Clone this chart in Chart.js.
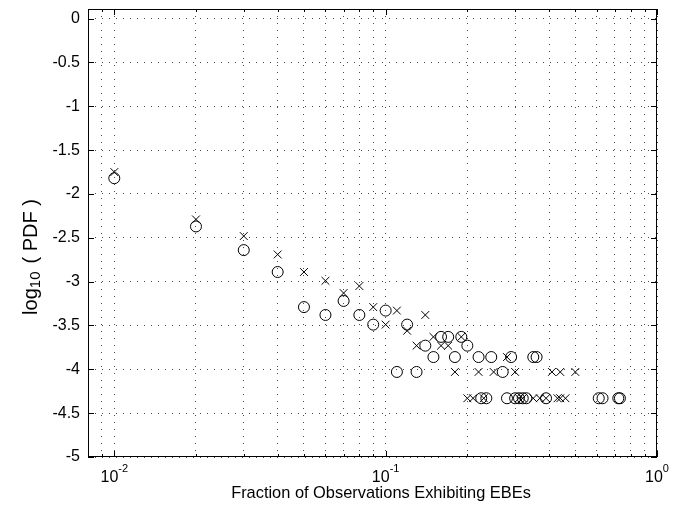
<!DOCTYPE html>
<html>
<head>
<meta charset="utf-8">
<script src="https://cdn.jsdelivr.net/npm/chart.js@4/dist/chart.umd.min.js"></script>
<style>
  html, body { margin: 0; padding: 0; background: #fff; }
  #wrap { width: 684px; height: 510px; }
</style>
</head>
<body>
<div id="wrap"><canvas id="pdfChart" width="684" height="510"></canvas></div>
<script>
// circles (o)
const circleX = [0.01, 0.02, 0.03, 0.04, 0.05, 0.06, 0.07, 0.08, 0.09, 0.10,
                 0.11, 0.12, 0.13, 0.14, 0.15, 0.16, 0.17, 0.18, 0.19, 0.20,
                 0.22, 0.245, 0.27, 0.29, 0.35, 0.36,
                 0.225, 0.235, 0.28, 0.30, 0.31, 0.32, 0.33, 0.39, 0.61, 0.63, 0.72, 0.73];
const circleY = [-1.82, -2.37, -2.64, -2.89, -3.29, -3.38, -3.22, -3.38, -3.49, -3.33,
                 -4.03, -3.49, -4.03, -3.73, -3.86, -3.63, -3.63, -3.86, -3.63, -3.73,
                 -3.86, -3.86, -4.03, -3.86, -3.86, -3.86,
                 -4.33, -4.33, -4.33, -4.33, -4.33, -4.33, -4.33, -4.33, -4.33, -4.33, -4.33, -4.33];

// crosses (x)
const crossX = [0.01, 0.02, 0.03, 0.04, 0.05, 0.06, 0.07, 0.08, 0.09, 0.10,
                0.11, 0.12, 0.13, 0.14, 0.15, 0.16, 0.17, 0.18, 0.19,
                0.22, 0.25, 0.28, 0.30, 0.41, 0.44, 0.50,
                0.20, 0.21, 0.23, 0.31, 0.32, 0.35, 0.37, 0.39, 0.43, 0.44, 0.46];
const crossY = [-1.75, -2.29, -2.48, -2.69, -2.89, -2.99, -3.13, -3.05, -3.29, -3.49,
                -3.33, -3.56, -3.73, -3.38, -3.63, -3.73, -3.73, -4.03, -3.63,
                -4.03, -4.03, -3.86, -4.03, -4.03, -4.03, -4.03,
                -4.33, -4.33, -4.33, -4.33, -4.33, -4.33, -4.33, -4.33, -4.33, -4.33, -4.33];

// axis ticks
const xGridTicks = [0.009, 0.01, 0.02, 0.03, 0.04, 0.05, 0.06, 0.07, 0.08, 0.09,
                    0.1, 0.2, 0.3, 0.4, 0.5, 0.6, 0.7, 0.8, 0.9, 1];
const xMajorTicks = [0.01, 0.1, 1];
const xMajorExp = ['-2', '-1', '0'];
const yTicks = [-5, -4.5, -4, -3.5, -3, -2.5, -2, -1.5, -1, -0.5, 0];
const yTickLabels = ['-5', '-4.5', '-4', '-3.5', '-3', '-2.5', '-2', '-1.5', '-1', '-0.5', '0'];

const FONT = '"Liberation Sans", Arial, Helvetica, sans-serif';

// 축 테두리, 눈금, 라벨 직접 그리기
const matlabAxes = {
    id: 'matlabAxes',
    afterDraw(chart) {
        const ctx = chart.ctx;
        const a = chart.chartArea;
        const xs = chart.scales.x;
        const ys = chart.scales.y;
        ctx.save();
        ctx.strokeStyle = '#000';
        ctx.lineWidth = 1;
        ctx.strokeRect(Math.round(a.left) + 0.5, Math.round(a.top) + 0.5,
                       Math.round(a.right - a.left) - 1, Math.round(a.bottom - a.top) - 1);

        // inward tick marks
        ctx.beginPath();
        xGridTicks.forEach(v => {
            const px = Math.round(xs.getPixelForValue(v)) + 0.5;
            const len = xMajorTicks.includes(v) ? 6 : 3;
            ctx.moveTo(px, a.bottom); ctx.lineTo(px, a.bottom - len);
            ctx.moveTo(px, a.top); ctx.lineTo(px, a.top + len);
        });
        yTicks.forEach(v => {
            const py = Math.round(ys.getPixelForValue(v)) + 0.5;
            ctx.moveTo(a.left, py); ctx.lineTo(a.left + 6, py);
            ctx.moveTo(a.right, py); ctx.lineTo(a.right - 6, py);
        });
        ctx.stroke();

        ctx.fillStyle = '#000';
        // y tick labels
        ctx.font = '16px ' + FONT;
        ctx.textAlign = 'right';
        ctx.textBaseline = 'middle';
        yTicks.forEach((v, i) => {
            ctx.fillText(yTickLabels[i], a.left - 8, ys.getPixelForValue(v));
        });

        // x tick labels 10^n
        ctx.textBaseline = 'alphabetic';
        ctx.textAlign = 'left';
        xMajorTicks.forEach((v, i) => {
            const px = xs.getPixelForValue(v);
            ctx.font = '16px ' + FONT;
            const w1 = ctx.measureText('10').width;
            ctx.font = '11px ' + FONT;
            const w2 = ctx.measureText(xMajorExp[i]).width;
            const left = px - (w1 + w2) / 2;
            ctx.font = '16px ' + FONT;
            ctx.fillText('10', left, a.bottom + 25);
            ctx.font = '11px ' + FONT;
            ctx.fillText(xMajorExp[i], left + w1, a.bottom + 15);
        });

        // x title
        ctx.font = '16.4px ' + FONT;
        ctx.textAlign = 'center';
        ctx.fillText('Fraction of Observations Exhibiting EBEs', 381, a.bottom + 41);

        // y title: log10 ( PDF )
        ctx.translate(37, 257);
        ctx.rotate(-Math.PI / 2);
        ctx.textAlign = 'left';
        ctx.font = '20px ' + FONT;
        const p1 = 'log', p3 = '( PDF )';
        const w1 = ctx.measureText(p1).width;
        const w3 = ctx.measureText(p3).width;
        ctx.font = '15px ' + FONT;
        const w2 = ctx.measureText('10').width;
        const start = -(w1 + w2 + 8 + w3) / 2;
        ctx.font = '20px ' + FONT;
        ctx.fillText(p1, start, 0);
        ctx.font = '15px ' + FONT;
        ctx.fillText('10', start + w1, 3);
        ctx.font = '20px ' + FONT;
        ctx.fillText(p3, start + w1 + w2 + 8, 0);
        ctx.restore();
    }
};

const gridStyle = {
    color: 'rgba(0,0,0,0.7)',
    lineWidth: 1,
    drawTicks: false
};

const ctx = document.getElementById('pdfChart').getContext('2d');
const chart = new Chart(ctx, {
    type: 'scatter',
    data: {
        datasets: [{
            label: 'o',
            data: circleX.map((x, i) => ({ x: x, y: circleY[i] })),
            pointStyle: 'circle',
            pointRadius: 5.5,
            borderColor: '#000',
            backgroundColor: 'rgba(0,0,0,0)',
            borderWidth: 1
        }, {
            label: 'x',
            data: crossX.map((x, i) => ({ x: x, y: crossY[i] })),
            pointStyle: 'crossRot',
            pointRadius: 5.5,
            borderColor: '#000',
            backgroundColor: '#000',
            borderWidth: 1
        }]
    },
    options: {
        responsive: false,
        animation: false,
        events: [],
        layout: { padding: { left: 88, right: 27, top: 9, bottom: 53 } },
        plugins: { legend: { display: false }, tooltip: { enabled: false } },
        scales: {
            x: {
                type: 'logarithmic',
                min: 0.008,
                max: 1,
                afterBuildTicks: scale => { scale.ticks = xGridTicks.map(v => ({ value: v })); },
                ticks: { display: false },
                grid: gridStyle,
                border: { display: false, dash: [1, 6] }
            },
            y: {
                type: 'linear',
                min: -5,
                max: 0.11,
                afterBuildTicks: scale => { scale.ticks = yTicks.map(v => ({ value: v })); },
                ticks: { display: false },
                grid: gridStyle,
                border: { display: false, dash: [1, 6] }
            }
        }
    },
    plugins: [matlabAxes]
});
</script>
</body>
</html>
